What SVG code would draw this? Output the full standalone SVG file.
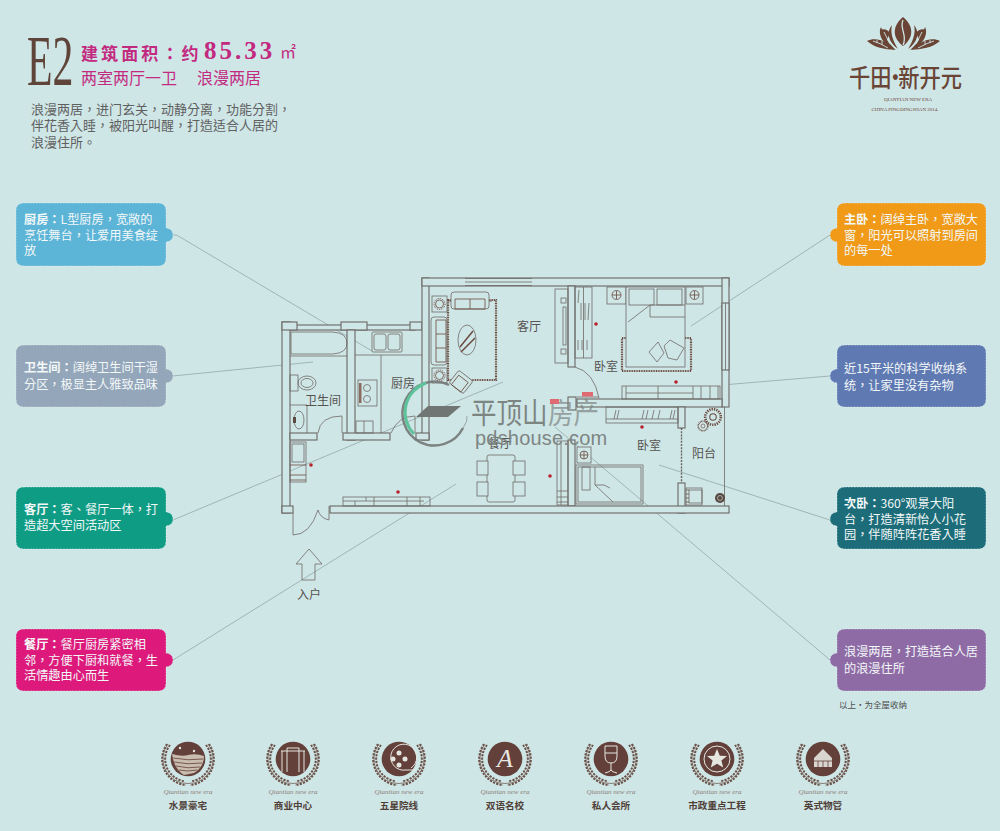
<svg xmlns="http://www.w3.org/2000/svg" width="1000" height="831" viewBox="0 0 1000 831">
<style>
text{font-family:"Noto Sans CJK SC","Noto Sans",sans-serif}
.tc{font-family:"Noto Sans CJK TC","Noto Sans CJK SC",sans-serif}
.w{fill:#cfe6e7;stroke:#6a6763;stroke-width:1.1}
.l{fill:none;stroke:#6e6a66;stroke-width:.8}
.lf{fill:#cfe6e7;stroke:#6e6a66;stroke-width:.8}
.b{fill:none;stroke:#6b4a3f;stroke-width:.8}
.rug{fill:none;stroke:#6b4a3f;stroke-width:2.2;stroke-dasharray:1 .7}
.dot{fill:#b8202c}
.lead{fill:none;stroke:#93a8a8;stroke-width:.8}
.card{stroke:#e4f1f1;stroke-opacity:.55;stroke-width:1;stroke-dasharray:1.5 1.5}
.ct{font-family:"Noto Sans CJK TC","Noto Sans CJK SC",sans-serif;font-size:12.2px;fill:#f3f8f8}
.ct tspan.h{font-weight:700}
.room{font-size:12px;fill:#55524f}
.lab{font-size:9.6px;font-weight:700;fill:#4f4037;text-anchor:middle}
.scr{font-family:"Liberation Serif",serif;font-style:italic;font-size:7px;fill:#8b7d76;text-anchor:middle}
.ci{fill:#63403a}
.ic{fill:none;stroke:#e6e6e0;stroke-width:1}
.icf{fill:#e6e6e0}
.wr{fill:none;stroke:#6b5147;stroke-width:2;stroke-dasharray:2.2 1.2}
.wr2{fill:none;stroke:#6b5147;stroke-width:.7}
</style>
<defs>
<g id="wreath">
<path class="wr" d="M-21-15A26 26 0 0 0 -2 26"/>
<path class="wr" d="M21-15A26 26 0 0 1 2 26"/>
<path class="wr" d="M-18-14A22.500 22.500 0 0 0 -3 22.300"/>
<path class="wr" d="M18-14A22.500 22.500 0 0 1 3 22.300"/>
<path class="wr2" d="M-20-15A24.500 24.500 0 0 0 0 24.500A24.500 24.500 0 0 0 20-15"/>
<circle class="ci" r="17.300"/>
</g>
<g id="flower"><circle r="2.500" fill="none" stroke="#6b4a3f" stroke-width=".8"/><circle r="6" fill="none" stroke="#6b4a3f" stroke-width="2" stroke-dasharray="1 .8"/></g>
</defs>
<rect width="1000" height="831" fill="#cfe6e7"/>

<g id="header">
<text transform="translate(27,85) scale(.58,1)" style="font-family:'Liberation Serif',serif;font-size:72px" fill="#5f4439">E2</text>
<text class="tc" x="81" y="60" font-size="17" font-weight="700" letter-spacing="3.100" fill="#c22a80">建筑面积：约</text>
<text x="204" y="59" style="font-family:'Liberation Serif',serif;font-size:25px;font-weight:700" letter-spacing="3" fill="#c22a80">85.33</text>
<text x="280" y="58" font-size="16" fill="#c22a80">㎡</text>
<text x="81" y="84" font-size="16" fill="#c22a80">两室两厅一卫</text>
<text x="197" y="84" font-size="16" fill="#c22a80">浪漫两居</text>
<g font-size="13" fill="#5f5f5f">
<text class="tc" x="31" y="114">浪漫两居，进门玄关，动静分离，功能分割，</text>
<text class="tc" x="31" y="130">伴花香入睡，被阳光叫醒，打造适合人居的</text>
<text class="tc" x="31" y="147">浪漫住所。</text>
</g>
</g>

<g id="logo">
<g fill="#6a4535">
<path d="M903 17C892 26 892 38 903 46C914 38 914 26 903 17Z"/>
<path d="M892 25C886 32 888 42 898 49C893 41 890 33 892 25ZM914 25C920 32 918 42 908 49C913 41 916 33 914 25Z"/>
<path d="M881 27C877 35 884 46 896 50C889 44 884 36 881 27ZM925 27C929 35 922 46 910 50C917 44 922 36 925 27Z"/>
<path d="M867 41C876 36 888 42 895 50C884 49 875 48 867 41ZM940 41C931 36 919 42 911 50C922 49 932 48 940 41Z"/>
<path d="M880 30C884 28 888 30 890 33L886 42ZM926 30C922 28 918 30 916 33L920 42Z"/>
</g>
<g fill="none" stroke="#cfe6e7" stroke-width=".9">
<path d="M903 20C899 28 908 36 903 45" stroke-width="1.300"/>
<path d="M884 32Q886 36 890 44M922 32Q920 36 916 44M873 41Q880 43 888 48M934 41Q927 43 918 48"/>
<path d="M877 43V40M882 45V41M930 43V40M925 45V41"/>
</g>
<text transform="translate(849,87) scale(.85,1)" font-size="25" font-weight="500" fill="#6a4535">千田<tspan dx="-8">·</tspan><tspan dx="-9">新开元</tspan></text>
<text x="908" y="101" text-anchor="middle" style="font-family:'Liberation Serif',serif;font-size:5px" fill="#6a4535">QIANTIAN NEW ERA</text>
<text x="905" y="111" text-anchor="middle" style="font-family:'Liberation Serif',serif;font-size:5px" fill="#6a4535">CHINA PINGDINGSHAN 2014.</text>
</g>

<g id="connectors">
<path class="lead" d="M173 235Q176 234 180 237L372 351"/>
<path class="lead" d="M173 376L313 362"/>
<path class="lead" d="M173 520L503 382"/>
<path class="lead" d="M173 660L456 484"/>
<path class="lead" d="M830 235L691 326"/>
<path class="lead" d="M830 376L722 385"/>
<path class="lead" d="M830 520L659 465"/>
<path class="lead" d="M830 660L555 427"/>
</g>

<g id="floorplan">
<rect class="w" x="282" y="322" width="8" height="191"/>
<rect class="w" x="290" y="325" width="125" height="5"/>
<rect class="w" x="282" y="322" width="15" height="8"/>
<rect class="w" x="341" y="322" width="26" height="8"/>
<rect class="w" x="410" y="322" width="12" height="8"/>
<rect class="w" x="347" y="330" width="8" height="110"/>
<rect class="w" x="422" y="278" width="7" height="162"/>
<rect class="w" x="422" y="278" width="307" height="8"/>
<rect x="465" y="279" width="67" height="6" fill="#cfe6e7"/>
<path class="l" d="M465 278.500H532M465 282H532M465 285.500H532"/>
<rect class="w" x="722" y="278" width="7" height="129"/>
<rect class="w" x="722" y="303" width="7" height="67"/>
<path class="l" d="M725.500 303V370"/>
<rect class="w" x="577" y="399" width="145" height="8"/>
<rect class="w" x="568" y="286" width="7" height="81"/>
<rect class="w" x="568" y="397" width="8" height="13"/>
<rect class="w" x="568" y="440" width="7" height="66"/>
<rect class="w" x="678" y="407" width="7" height="21"/>
<rect class="w" x="678" y="483" width="7" height="30"/>
<path d="M681.500 428V483" fill="none" stroke="#66635f" stroke-width="1.400" stroke-dasharray="2 1.200"/>
<path class="l" d="M724.500 407V506"/>
<rect class="w" x="330" y="506" width="399" height="7"/>
<rect class="w" x="282" y="506" width="11" height="7"/>
<rect class="w" x="290" y="433" width="27" height="7"/>
<rect class="w" x="343" y="433" width="47" height="7"/>
<rect class="w" x="416" y="433" width="13" height="7"/>
<path class="l" d="M293 513V535Q310 535 318 510Q320 518 329 520M329 520V506"/>
<path class="l" d="M318 433Q320 416 342 416V433"/>
<path class="l" d="M391 433Q398 416 415 416V433"/>
<path class="l" d="M575 367Q594 372 599 398M577 397H599"/>
<path class="l" d="M291 332H333Q347 333 347 343Q347 353 333 354H291Z"/>
<path class="l" d="M290 356H347"/>
<rect class="l" x="290" y="375" width="8" height="16"/>
<ellipse class="l" cx="307" cy="383" rx="9" ry="7"/>
<ellipse class="l" cx="307" cy="383" rx="6" ry="4.500"/>
<path class="l" d="M290 405H307V433"/>
<ellipse class="l" cx="299" cy="420" rx="5" ry="9"/>
<rect x="293" y="417" width="3" height="6" fill="#5a4a42"/>
<rect class="l" x="290" y="442" width="16" height="40"/>
<rect class="l" x="292" y="444" width="12" height="18"/>
<path class="b" d="M290 465H306M290 475H306M290 480H306" stroke-width="1.200"/>
<rect class="l" x="372" y="332" width="30" height="20" rx="1"/>
<rect class="l" x="374" y="334" width="12" height="16" rx="2"/>
<rect class="l" x="388" y="334" width="12" height="16" rx="2"/>
<path class="l" d="M355 355H422M381 355V433"/>
<rect class="lf" x="358" y="380" width="19" height="26"/>
<circle class="l" cx="367" cy="388" r="3.500"/><circle class="l" cx="367" cy="399" r="3.500"/>
<rect x="359" y="383" width="2.500" height="20" fill="#8a6a5e"/>
<rect class="l" x="356" y="421" width="17" height="12"/><path class="l" d="M364 421V433"/>
<rect class="rug" x="448" y="300" width="48" height="80"/>
<ellipse class="lf" cx="467" cy="340" rx="9" ry="15"/>
<path d="M460 347L473 331M461 352L475 338" stroke="#6b4a3f" stroke-width="1.500"/>
<g id="sofa-top"><rect class="lf" x="451" y="292" width="38" height="17" rx="3"/><path class="b" d="M455 299H485V309H455ZM470 299V309M451 301H448M489 301H492" stroke-width="1.500"/></g>
<g id="sofa-left"><rect class="lf" x="431" y="317" width="16" height="48" rx="3"/><path class="b" d="M436 320V362H446V320ZM436 334H446M436 348H446" stroke-width="1.500"/></g>
<g id="side-1"><rect class="lf" x="432" y="296" width="15" height="16"/><circle class="b" cx="439.500" cy="304" r="4"/><circle cx="439.500" cy="304" r="5.500" fill="none" stroke="#6b4a3f" stroke-width="1" stroke-dasharray="1 1"/></g>
<g id="side-2"><rect class="lf" x="432" y="368" width="15" height="15"/><circle class="b" cx="439.500" cy="375.500" r="4"/><circle cx="439.500" cy="375.500" r="5.500" fill="none" stroke="#6b4a3f" stroke-width="1" stroke-dasharray="1 1"/></g>
<g transform="rotate(38 461 382)"><rect class="lf" x="452" y="374" width="18" height="16" rx="2"/><path class="b" d="M455 378H467V390H455Z" stroke-width="1.500"/></g>
<rect class="l" x="555" y="289" width="13" height="74"/>
<rect class="l" x="563" y="307" width="3" height="38"/>
<rect class="l" x="561" y="298" width="5" height="5"/><rect class="l" x="561" y="349" width="5" height="5"/>
<rect class="l" x="575" y="287" width="17" height="71"/>
<path class="l" d="M583.500 287V358"/>
<path class="l" d="M578 303L579 290M581 320V303M585 320V303M588 320L589 303M578 350V340M582 350V340M587 350V340"/>
<rect class="l" x="343" y="497" width="87" height="9"/>
<path class="l" d="M343 501H424M355 506V501M366 497V501M374 497V506M407 497V506M420 497V506"/>
<rect class="l" x="487" y="455" width="28" height="47" rx="2"/>
<g><rect class="lf" x="477" y="461" width="11" height="14"/><rect class="lf" x="477" y="482" width="11" height="14"/><rect class="lf" x="513" y="461" width="12" height="14"/><rect class="lf" x="513" y="482" width="12" height="14"/></g>
<rect class="lf" x="607" y="287" width="19" height="17"/><rect class="lf" x="686" y="287" width="17" height="17"/>
<circle class="b" cx="616.500" cy="295" r="4.500"/><path class="b" d="M616.500 291V299M612 295H621"/>
<circle class="b" cx="694.500" cy="295" r="4.500"/><path class="b" d="M694.500 291V299M690 295H699"/>
<rect class="rug" x="622" y="338" width="69" height="33"/>
<rect class="lf" x="626" y="287" width="59" height="80"/>
<rect class="l" x="629" y="289" width="25" height="16"/>
<rect class="l" x="657" y="289" width="25" height="16"/>
<path class="l" d="M628 322L650 305V317H685M650 305H685"/>
<path class="l" d="M649 352L658 342L664 353L657 362ZM664 346L670 340L684 348L677 360L668 358Z"/>
<rect class="l" x="622" y="386" width="98" height="13"/>
<path class="l" d="M626 386V399M658 386V399M693 386V399M701 386V399M710 386V399M718 386V399M626 393H693"/>
<rect class="l" x="606" y="407" width="72" height="16"/>
<path class="l" d="M606 419H678M616 410L614 419M619 410L617 419M644 410L642 419M648 410L646 419M654 410L652 419M660 410L658 419M672 410L670 419M675 410L673 419"/>
<rect class="l" x="557" y="441" width="11" height="64"/>
<path class="l" d="M561 441V505M557 491H568M557 497H568M557 502H568"/>
<rect class="lf" x="577" y="447" width="14" height="16"/>
<circle class="b" cx="584" cy="455" r="4"/><path class="b" d="M584 451V459M580 455H588"/>
<rect class="l" x="576" y="465" width="67" height="39"/><rect class="l" x="578" y="467" width="63" height="35"/>
<rect class="l" x="582" y="467" width="8" height="23"/>
<path class="l" d="M595 467V485L613 502M595 485H604L610 488"/>
<use href="#flower" transform="translate(713 417) scale(1.300)"/>
<use href="#flower" transform="translate(703 426) scale(.800)"/>
<rect class="l" x="686" y="488" width="16" height="17"/><rect class="l" x="689" y="490" width="13" height="13"/>
<path class="b" d="M686 490H689M686 494H689M686 498H689M686 502H689"/>
<circle cx="720" cy="498" r="5" fill="#5a4a42"/><circle cx="720" cy="498" r="2.500" fill="none" stroke="#cfe6e7" stroke-width=".6"/>
<circle class="dot" cx="311" cy="465" r="1.800"/><circle class="dot" cx="398" cy="492" r="1.800"/>
<circle class="dot" cx="596" cy="324" r="1.800"/><circle class="dot" cx="676" cy="382" r="1.800"/>
<circle class="dot" cx="642" cy="427" r="1.800"/><circle class="dot" cx="550" cy="476" r="1.800"/>
<text class="room" x="529" y="331" text-anchor="middle">客厅</text>
<text class="room" x="606" y="371" text-anchor="middle">卧室</text>
<text class="room" x="649" y="450" text-anchor="middle">卧室</text>
<text class="room" x="704" y="458" text-anchor="middle">阳台</text>
<text class="room" x="403" y="388" text-anchor="middle">厨房</text>
<text class="room" x="323" y="405" text-anchor="middle">卫生间</text>
<text class="room" x="500" y="448" text-anchor="middle">餐厅</text>
<polygon class="l" points="309,549 322,564 315,564 315,580 302,580 302,564 296,564"/>
<text class="room" x="309" y="599" text-anchor="middle">入户</text>
</g>

<g id="watermark">
<path d="M449 385A32 32 0 1 0 463 428" fill="none" stroke="#737876" stroke-width="2.500" opacity=".9"/>
<path d="M463 428Q468 421 467 416" fill="none" stroke="#737876" stroke-width=".6"/>
<path d="M426 383A31 31 0 0 0 414 434" fill="none" stroke="#5cc39a" stroke-width="3"/>
<polygon points="428,406 461,406 448,417 416,417" fill="#6f7673"/>
<text transform="translate(471,424) scale(.88,1)" font-size="29" fill="#7d8583">平顶山</text>
<text transform="translate(548,424) scale(.88,1)" font-size="29" fill="#7d8583" opacity=".7">房产</text>
<rect x="582" y="392" width="11" height="4.500" fill="#e06a72"/>
<rect x="550" y="399" width="9" height="5" fill="#e06a72"/>
<text x="475" y="445" style="font-family:'Liberation Sans',sans-serif;font-size:20px" letter-spacing=".2" fill="#7d8583">pdshouse.com</text>
</g>

<g id="card-kitchen">
<path class="card" fill="#5cb4d7" d="M24 203H158Q166 203 166 211V228Q173 229 173 235Q173 241 166 242V258Q166 266 158 266H24Q16 266 16 258V211Q16 203 24 203Z"/>
<text class="ct" x="24" y="224"><tspan class="h">厨房：</tspan>L型厨房，宽敞的</text>
<text class="ct" x="24" y="240">烹饪舞台，让爱用美食绽</text>
<text class="ct" x="24" y="255">放</text>
</g>
<g id="card-bath">
<path class="card" fill="#93a6ba" d="M24 345H158Q166 345 166 353V369Q173 370 173 376Q173 382 166 383V399Q166 407 158 407H24Q16 407 16 399V353Q16 345 24 345Z"/>
<text class="ct" x="24" y="372"><tspan class="h">卫生间：</tspan>阔绰卫生间干湿</text>
<text class="ct" x="24" y="389">分区，极显主人雅致品味</text>
</g>
<g id="card-living">
<path class="card" fill="#0f9c85" d="M24 487H158Q166 487 166 495V512Q173 513 173 519Q173 525 166 526V541Q166 549 158 549H24Q16 549 16 541V495Q16 487 24 487Z"/>
<text class="ct" x="24" y="514"><tspan class="h">客厅：</tspan>客、餐厅一体，打</text>
<text class="ct" x="24" y="530">造超大空间活动区</text>
</g>
<g id="card-dining">
<path class="card" fill="#dd1a7c" d="M24 629H158Q166 629 166 637V653Q173 654 173 660Q173 666 166 667V683Q166 691 158 691H24Q16 691 16 683V637Q16 629 24 629Z"/>
<text class="ct" x="24" y="649"><tspan class="h">餐厅：</tspan>餐厅厨房紧密相</text>
<text class="ct" x="24" y="665">邻，方便下厨和就餐，生</text>
<text class="ct" x="24" y="680">活情趣由心而生</text>
</g>
<g id="card-master">
<path class="card" fill="#f09a17" d="M845 203H978Q986 203 986 211V258Q986 266 978 266H845Q837 266 837 258V242Q830 241 830 235Q830 229 837 228V211Q837 203 845 203Z"/>
<text class="ct" x="844" y="224"><tspan class="h">主卧：</tspan>阔绰主卧，宽敞大</text>
<text class="ct" x="844" y="240">窗，阳光可以照射到房间</text>
<text class="ct" x="844" y="255">的每一处</text>
</g>
<g id="card-storage">
<path class="card" fill="#5f79b3" d="M845 345H978Q986 345 986 353V399Q986 407 978 407H845Q837 407 837 399V383Q830 382 830 376Q830 370 837 369V353Q837 345 845 345Z"/>
<text class="ct" x="844" y="373">近15平米的科学收纳系</text>
<text class="ct" x="844" y="390">统，让家里没有杂物</text>
</g>
<g id="card-second">
<path class="card" fill="#1c6d79" d="M845 487H978Q986 487 986 495V541Q986 549 978 549H845Q837 549 837 541V526Q830 525 830 519Q830 513 837 512V495Q837 487 845 487Z"/>
<text class="ct" x="844" y="508"><tspan class="h">次卧：</tspan>360°观景大阳</text>
<text class="ct" x="844" y="524">台，打造清新怡人小花</text>
<text class="ct" x="844" y="539">园，伴随阵阵花香入睡</text>
</g>
<g id="card-romance">
<path class="card" fill="#8f6ba6" d="M845 629H978Q986 629 986 637V683Q986 691 978 691H845Q837 691 837 683V667Q830 666 830 660Q830 654 837 653V637Q837 629 845 629Z"/>
<text class="ct" x="844" y="656">浪漫两居，打造适合人居</text>
<text class="ct" x="844" y="673">的浪漫住所</text>
</g>
<text x="839" y="708" font-size="8.500" fill="#4d4d4d">以上•为全屋收纳</text>

<g id="badge-water" transform="translate(188,759)">
<use href="#wreath"/>
<path d="M-16 -5Q-6 -2 0-4Q8-6 16-3Q16 8 6 14L-4 16Q-14 10-16-5Z" fill="#c9bdb0"/>
<path d="M-15-1Q0 2 15 0M-14 3Q0 6 14 4M-12 7Q0 10 12 8M-9 11Q0 13 9 11" fill="none" stroke="#63403a" stroke-width=".8"/>
<circle class="icf" cx="-8" cy="-11" r="1.200"/><circle class="icf" cx="6" cy="-8" r="1.200"/>
<text class="scr" y="35">Qiantian new era</text><text class="lab" y="50">水景豪宅</text>
</g>
<g id="badge-mall" transform="translate(293,759)">
<use href="#wreath"/>
<path class="ic" d="M-12-8H12M-11-8V13M11-8V13M-6-8V13M6-8V13M-6-8V-11H6V-8"/>
<text class="scr" y="35">Qiantian new era</text><text class="lab" y="50">商业中心</text>
</g>
<g id="badge-cinema" transform="translate(399,759)">
<use href="#wreath"/>
<path class="ic" d="M12 9A13 13 0 1 0 7 11H17" stroke-width="1.300"/>
<circle class="icf" cx="0" cy="-6" r="2.500"/><circle class="icf" cx="0" cy="6" r="2.500"/><circle class="icf" cx="-6" cy="0" r="2.500"/><circle class="icf" cx="6" cy="0" r="2.500"/>
<text class="scr" y="35">Qiantian new era</text><text class="lab" y="50">五星院线</text>
</g>
<g id="badge-school" transform="translate(505,759)">
<use href="#wreath"/>
<text x="0" y="8" text-anchor="middle" style="font-family:'Liberation Serif',serif;font-style:italic;font-size:26px" fill="#e6e6e0">A</text>
<text class="scr" y="35">Qiantian new era</text><text class="lab" y="50">双语名校</text>
</g>
<g id="badge-club" transform="translate(611,759)">
<use href="#wreath"/>
<path class="ic" d="M-6-13H6V-3Q6 4 0 4Q-6 4-6-3ZM-6-6H6M0 4V12M-6 14Q-1 13 0 11Q1 13 6 14" stroke-width="1.200"/>
<text class="scr" y="35">Qiantian new era</text><text class="lab" y="50">私人会所</text>
</g>
<g id="badge-civic" transform="translate(717,759)">
<use href="#wreath"/>
<circle class="ic" r="13"/>
<polygon class="icf" points="0,-10 2.800,-3.200 10,-3 4.400,1.500 6.200,8.500 0,4.700 -6.200,8.500 -4.400,1.500 -10,-3 -2.800,-3.200"/>
<text class="scr" y="35">Qiantian new era</text><text class="lab" y="50">市政重点工程</text>
</g>
<g id="badge-estate" transform="translate(823,759)">
<use href="#wreath"/>
<path class="icf" d="M-9 8V-1L-5-5Q-2-8 0-10Q2-8 5-5L9-1V8Z" opacity=".9"/>
<path d="M-9 2H9M-5 8V2M0 8V2M5 8V2" stroke="#63403a" stroke-width=".8"/>
<text class="scr" y="35">Qiantian new era</text><text class="lab" y="50">英式物管</text>
</g>
</svg>
